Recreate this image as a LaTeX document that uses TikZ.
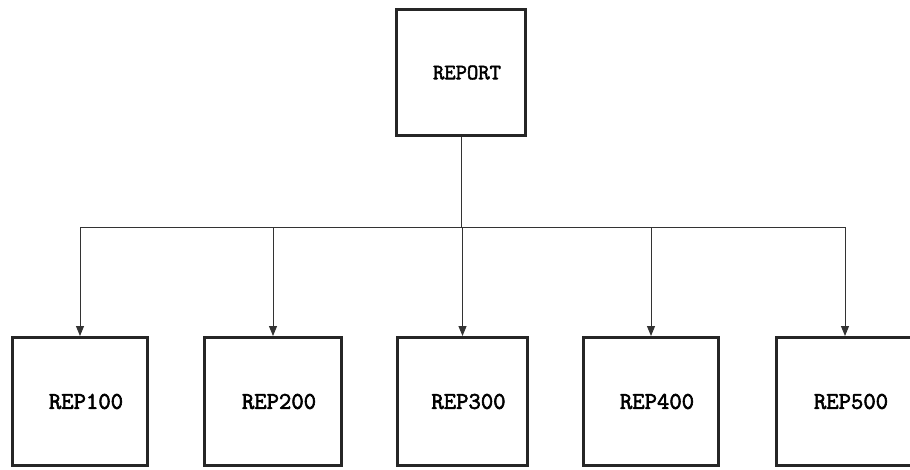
\documentclass[tikz,border=0pt]{standalone}
\usepackage{fontspec}
\newfontfamily\boxfont[FakeBold=2.5]{Latin Modern Mono}
\usetikzlibrary{arrows.meta}
\begin{document}
\begin{tikzpicture}[x=1pt,y=-1pt,
  box/.style={draw=black!85, line width=3pt, rectangle, minimum height=128pt, inner sep=0pt,
    font=\boxfont\fontsize{24}{26}\selectfont},
  conn/.style={draw=black!80, line width=1pt},
  arr/.style={conn, -{Triangle[width=8pt,length=10pt]}}]
\useasboundingbox (0,0) rectangle (910,469);
\clip (0,0) rectangle (910,469);
\node[box, minimum width=129pt, minimum height=126pt, font=\boxfont\fontsize{22}{24}\selectfont] (top) at (461,72.5) {\hspace*{12pt}REPORT};
\node[box, minimum width=135pt] (b1) at (80,401.5) {\hspace*{12pt}REP100};
\node[box, minimum width=137pt] (b2) at (273,401.5) {\hspace*{12pt}REP200};
\node[box, minimum width=130pt] (b3) at (462.5,401.5) {\hspace*{12pt}REP300};
\node[box, minimum width=135pt] (b4) at (651,401.5) {\hspace*{12pt}REP400};
\node[box, minimum width=137pt] (b5) at (845,401.5) {\hspace*{12pt}REP500};
\coordinate (bus) at (0,227);
\draw[conn] (top.south) -- (top.south |- bus);
\draw[conn] (b1.north |- bus) -- (b5.north |- bus);
\foreach \b in {b1,b2,b3,b4,b5}{
  \draw[arr] (\b.north |- bus) -- (\b.north);
}
\end{tikzpicture}
\end{document}
